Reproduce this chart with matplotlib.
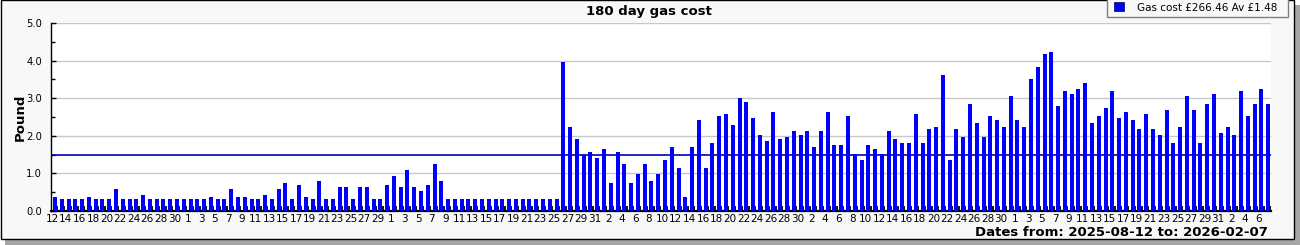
import matplotlib
matplotlib.use("Agg")
import matplotlib.pyplot as plt
from matplotlib.patches import Rectangle
from matplotlib.ticker import MultipleLocator
import numpy as np
import pandas as pd

# ---------------- data ----------------
start_date = "2025-08-12"
end_date = "2026-02-07"
title = "180 day gas cost"
y_label = "Pound"
total_cost = 266.46
average_cost = 1.48

daily_cost = [
    0.37, 0.32, 0.32, 0.32, 0.32, 0.37, 0.32, 0.32, 0.32, 0.59,
    0.32, 0.32, 0.32, 0.43, 0.32, 0.32, 0.32, 0.32, 0.32, 0.32,
    0.32, 0.32, 0.32, 0.37, 0.32, 0.32, 0.59, 0.37, 0.37, 0.32,
    0.32, 0.43, 0.32, 0.59, 0.75, 0.32, 0.69, 0.37, 0.32, 0.80,
    0.32, 0.32, 0.64, 0.64, 0.32, 0.64, 0.64, 0.32, 0.32, 0.69,
    0.93, 0.64, 1.09, 0.64, 0.53, 0.69, 1.25, 0.80, 0.32, 0.32,
    0.32, 0.32, 0.32, 0.32, 0.32, 0.32, 0.32, 0.32, 0.32, 0.32,
    0.32, 0.32, 0.32, 0.32, 0.32, 3.97, 2.24, 1.92, 1.49, 1.57,
    1.41, 1.65, 0.75, 1.57, 1.25, 0.75, 0.99, 1.25, 0.80, 0.99,
    1.36, 1.71, 1.15, 0.37, 1.71, 2.42, 1.15, 1.81, 2.53, 2.58,
    2.29, 3.01, 2.90, 2.48, 2.02, 1.86, 2.64, 1.92, 1.97, 2.13,
    2.02, 2.13, 1.71, 2.13, 2.64, 1.76, 1.76, 2.53, 1.52, 1.36,
    1.76, 1.65, 1.52, 2.13, 1.92, 1.81, 1.81, 2.58, 1.81, 2.18,
    2.24, 3.62, 1.36, 2.18, 1.97, 2.85, 2.34, 1.97, 2.53, 2.42,
    2.24, 3.06, 2.42, 2.24, 3.52, 3.84, 4.18, 4.24, 2.80, 3.20,
    3.12, 3.25, 3.41, 2.34, 2.53, 2.74, 3.20, 2.48, 2.64, 2.42,
    2.18, 2.58, 2.18, 2.02, 2.69, 1.81, 2.24, 3.06, 2.69, 1.81,
    2.85, 3.12, 2.08, 2.24, 2.02, 3.20, 2.53, 2.85, 3.25, 2.85,
]

dates = pd.date_range(start_date, end_date, freq="D")
tick_labels = [str(d.day) for d in dates[::2]]

# ---------------- figure ----------------
W, H = 1300, 245
fig = plt.figure(figsize=(W / 100, H / 100), dpi=100)
fig.patch.set_facecolor("white")


def fx(px):
    return px / W


def fy(py):
    return 1 - py / H


# drop shadow and frame (behind the axes)
fig.patches.append(Rectangle((fx(5), fy(244.5)), 1294.5 / W, 239.5 / H,
                             transform=fig.transFigure, figure=fig,
                             facecolor="#a6a6a6", edgecolor="none", zorder=-3))
fig.patches.append(Rectangle((fx(0.5), fy(238.5)), 1293.5 / W, 238 / H,
                             transform=fig.transFigure, figure=fig,
                             facecolor="#f8f8f8", edgecolor="black",
                             linewidth=1.0, zorder=-2))

ax = fig.add_axes([fx(51), fy(211), 1220 / W, 188 / H])
ax.set_zorder(1)
ax.set_facecolor("white")

x = np.arange(len(daily_cost))
ax.bar(x, daily_cost, width=0.59, color="#0000ff", zorder=3)
ax.axhline(average_cost, color="#0000b0", linewidth=1.2, zorder=2)

ax.set_xlim(-0.59, len(daily_cost) - 0.59)
ax.set_ylim(0, 5)

ax.yaxis.set_minor_locator(MultipleLocator(0.5))
ax.set_yticks(np.arange(0, 5.01, 1.0))
ax.set_yticklabels([f"{v:.1f}" for v in np.arange(0, 5.01, 1.0)])
ax.grid(axis="y", which="major", color="#c8c8c8", linewidth=1.0, zorder=0)
ax.set_axisbelow(True)

ax.set_xticks(x[::2] - 0.4)
ax.set_xticklabels(tick_labels)
ax.set_xticks(x + 0.33, minor=True)

ax.tick_params(axis="x", which="major", length=0, labelsize=7.5, pad=2.3,
               colors="black")
ax.tick_params(axis="x", which="minor", direction="in", length=3.6,
               width=1.3, color="black")
ax.tick_params(axis="y", which="major", direction="in", length=3.6,
               width=1.0, labelsize=7.2, pad=6.5)
ax.tick_params(axis="y", which="minor", direction="in", length=2.6,
               width=1.0)

for s in ("top", "right"):
    ax.spines[s].set_visible(False)
ax.spines["left"].set_linewidth(1.0)
ax.spines["bottom"].set_linewidth(1.6)

# texts
fig.text(fx(648.5), fy(15.3), title, ha="center", va="baseline",
         fontsize=9.5, fontweight="bold")
fig.text(fx(20.5), fy(117), y_label, ha="center", va="center",
         rotation=90, fontsize=9.5, fontweight="bold")
fig.text(fx(1268), fy(235.7), f"Dates from: {start_date} to: {end_date}",
         ha="right", va="baseline", fontsize=9.5, fontweight="bold")

# legend box
fig.patches.append(Rectangle((fx(1107), fy(17)), 181 / W, 25 / H,
                             transform=fig.transFigure, figure=fig,
                             facecolor="#f8f8f8", edgecolor="#7f7f7f",
                             linewidth=1.0, zorder=5))
fig.patches.append(Rectangle((fx(1114), fy(11.5)), 10 / W, 9.5 / H,
                             transform=fig.transFigure, figure=fig,
                             facecolor="#0000ff", edgecolor="#000060",
                             linewidth=0.5, zorder=6))
fig.text(fx(1137), fy(11.3),
         f"Gas cost \u00a3{total_cost:.2f} Av \u00a3{average_cost:.2f}",
         ha="left", va="baseline", fontsize=7.5, zorder=7)

fig.savefig("out.png", dpi=100, facecolor=fig.get_facecolor())
